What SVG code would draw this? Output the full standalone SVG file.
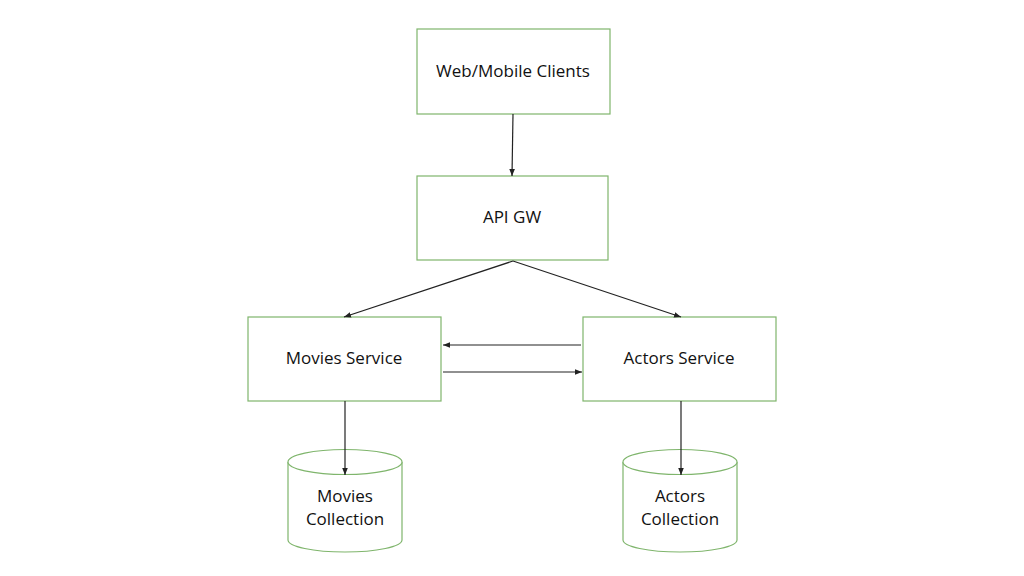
<svg xmlns="http://www.w3.org/2000/svg" width="1024" height="576" viewBox="0 0 1024 576">
<defs>
<style>
.box{fill:#ffffff;stroke:#7fb56c;stroke-width:1.2}
.lbl{font-family:"Open Sans","Liberation Sans",sans-serif;font-size:17px;fill:#111;text-anchor:middle}
.conn{stroke:#222;stroke-width:1.2;fill:none;marker-end:url(#ah)}
</style>
<marker id="ah" viewBox="0 0 10 10" refX="10" refY="5" markerWidth="7" markerHeight="7" orient="auto" markerUnits="userSpaceOnUse">
<path d="M0,1 L10,5 L0,9 z" fill="#222"/>
</marker>
</defs>
<rect width="1024" height="576" fill="#ffffff"/>
<g id="clients"><rect class="box" x="417" y="29" width="193" height="85"/><text class="lbl" x="513" y="77">Web/Mobile Clients</text></g>
<g id="apigw"><rect class="box" x="417" y="176" width="191" height="84"/><text class="lbl" x="512" y="223">API GW</text></g>
<g id="movies"><rect class="box" x="248" y="317" width="193" height="84"/><text class="lbl" x="344" y="364">Movies Service</text></g>
<g id="actors"><rect class="box" x="583" y="317" width="193" height="84"/><text class="lbl" x="679" y="364">Actors Service</text></g>
<g id="moviesdb">
<path class="box" d="M288,462 L288,540 A57,12 0 0 0 402,540 L402,462"/>
<ellipse class="box" cx="345" cy="462" rx="57" ry="12.5"/>
<text class="lbl" x="345" y="502">Movies</text><text class="lbl" x="345" y="525">Collection</text>
</g>
<g id="actorsdb">
<path class="box" d="M623,462 L623,540 A57,12 0 0 0 737,540 L737,462"/>
<ellipse class="box" cx="680" cy="462" rx="57" ry="12.5"/>
<text class="lbl" x="680" y="502">Actors</text><text class="lbl" x="680" y="525">Collection</text>
</g>
<g id="connectors">
<line class="conn" x1="513" y1="114" x2="512" y2="176"/>
<line class="conn" x1="513" y1="261" x2="344" y2="317"/>
<line class="conn" x1="513" y1="261" x2="681" y2="317"/>
<line class="conn" x1="581" y1="345" x2="443" y2="345"/>
<line class="conn" x1="443" y1="372" x2="582" y2="372"/>
<line class="conn" x1="345" y1="401" x2="345" y2="475"/>
<line class="conn" x1="681" y1="401" x2="681" y2="475"/>
</g>
</svg>
